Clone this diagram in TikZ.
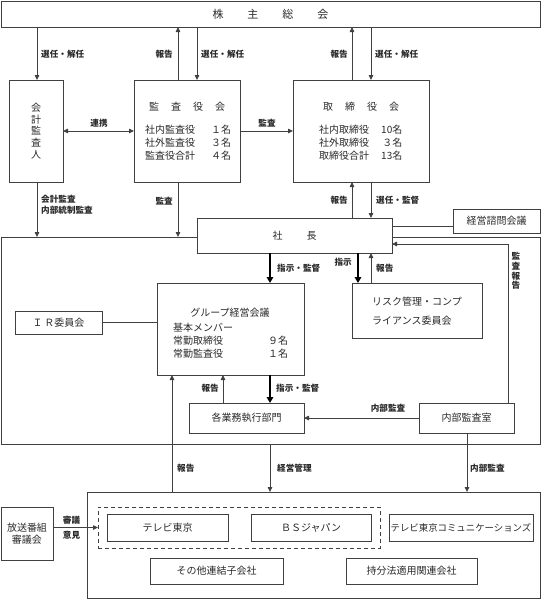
\documentclass[tikz,border=0pt]{standalone}
\usepackage{fontspec}
\setmainfont{Noto Sans CJK JP}
\usetikzlibrary{arrows.meta}
\definecolor{lc}{HTML}{404040}
\definecolor{tc}{HTML}{2A2A2A}
\tikzset{
  box/.style={draw=lc, line width=0.8pt, fill=white, inner sep=0pt, outer sep=0pt,
    font=\fontsize{10}{13}\selectfont, text=tc, align=center},
  txt/.style={inner sep=0pt, font=\fontsize{10}{13}\selectfont, text=tc},
  lbl/.style={inner sep=0pt, font=\fontsize{8.6}{10}\selectfont\bfseries, text=tc},
  ar/.style={draw=lc, line width=0.8pt, -{Triangle[length=5pt,width=4.5pt]}},
  arr/.style={draw=lc, line width=0.8pt, {Triangle[length=5pt,width=4.5pt]}-{Triangle[length=5pt,width=4.5pt]}},
  tar/.style={draw=black, line width=1.8pt, -{Triangle[length=6pt,width=6.5pt]}},
  ln/.style={draw=lc, line width=0.8pt},
  dashbox/.style={draw=lc, line width=0.8pt, dashed, dash pattern=on 4pt off 3pt, inner sep=0pt, outer sep=0pt},
}
\newcommand\bx[7][]{\node[box,#1,minimum width={#5-#3},minimum height={#6-#4}] (#2) at ({(#3+#5)/2},{(#4+#6)/2}) {#7};}
\begin{document}
\begin{tikzpicture}[x=1pt,y=-1pt]
\useasboundingbox (0,0) rectangle (541,600);
% x / y reference coordinates
\coordinate (x37) at (37,0);
\coordinate (x172) at (172,0);
\coordinate (x178) at (178,0);
\coordinate (x197) at (197,0);
\coordinate (x223) at (223,0);
\coordinate (x270) at (270,0);
\coordinate (x352) at (352,0);
\coordinate (x358) at (358,0);
\coordinate (x371) at (371,0);
\coordinate (x467) at (467,0);
\coordinate (x508) at (508,0);
\coordinate (y226) at (0,226);
\coordinate (y244) at (0,244);

% big areas
\bx{area}{1}{237}{540}{444}{}
\bx{kogaisha}{87}{492}{540}{598}{}

% boxes
\bx[font=\fontsize{11}{13}\selectfont]{soukai}{1}{1}{540}{27}{株\hspace{24pt}主\hspace{24pt}総\hspace{24pt}会}
\bx[font=\fontsize{10}{11.8}\selectfont]{kaikei}{9}{80}{63}{182}{会\\計\\監\\査\\人}
\bx{kansa}{134}{80}{240}{182}{}
\bx{tori}{293}{80}{429}{182}{}
\bx{shacho}{197}{218}{392}{253}{社\hspace{24pt}長}
\bx{shimon}{453}{209}{540}{233}{経営諮問会議}
\bx{group}{157}{283}{304}{375}{}
\bx{risk}{352}{283}{482}{338}{}
\bx{ir}{15}{311}{102}{334}{Ｉ\,Ｒ委員会}
\bx{gyomu}{189}{403}{304}{433}{各業務執行部門}
\bx{naibukansa}{419}{403}{514}{433}{内部監査室}
\node[dashbox, minimum width=282, minimum height=41] (dash) at (239,527.5) {};
\bx{tx}{107}{514}{228}{541}{テレビ東京}
\bx{bsj}{251}{514}{371}{541}{ＢＳジャパン}
\bx[font=\fontsize{9.4}{12}\selectfont]{tvc}{389}{514}{533}{541}{テレビ東京コミュニケーションズ}
\bx{sonota}{150}{558}{283}{584}{その他連結子会社}
\bx{mochibun}{346}{558}{477}{584}{持分法適用関連会社}
\bx[font=\fontsize{10}{12}\selectfont]{hoso}{1}{507}{53}{560}{放送番組\\審議会}

% box contents
\node[txt] (kansaT) at (187,107) {監\hspace{12pt}査\hspace{12pt}役\hspace{12pt}会};
\node[txt, anchor=west] (kansaL) at (145,144) {\begin{tabular}{@{}l@{\hspace{16pt}}r@{}}社内監査役&１名\\社外監査役&３名\\監査役合計&４名\end{tabular}};
\node[txt] (toriT) at (361,107) {取\hspace{12pt}締\hspace{12pt}役\hspace{12pt}会};
\node[txt, anchor=west] (toriL) at (319,144) {\begin{tabular}{@{}l@{\hspace{12pt}}r@{}}社内取締役&10名\\社外取締役&３名\\取締役合計&13名\end{tabular}};
\node[txt] (groupT) at (230,313) {グループ経営会議};
\node[txt, anchor=west] (groupL) at (173,342) {\begin{tabular}{@{}l@{\hspace{45pt}}r@{}}\multicolumn{2}{@{}l@{}}{基本メンバー}\\常勤取締役&９名\\常勤監査役&１名\end{tabular}};
\node[txt, anchor=west, align=left] (riskT) at (372,311.5) {リスク管理・コンプ\\[6pt]ライアンス委員会};

% connectors top
\draw[ar] (soukai.south -| x37) -- (kaikei.north -| x37);
\draw[ar] (kansa.north -| x178) -- (soukai.south -| x178);
\draw[ar] (soukai.south -| x197) -- (kansa.north -| x197);
\draw[ar] (tori.north -| x352) -- (soukai.south -| x352);
\draw[ar] (soukai.south -| x371) -- (tori.north -| x371);
\draw[arr] (kaikei.east) -- (kansa.west);
\draw[ar] (kansa.east) -- (tori.west);
\draw[ar] (kaikei.south -| x37) -- (area.north -| x37);
\draw[ar] (kansa.south -| x178) -- (area.north -| x178);
\draw[ar] (shacho.north -| x352) -- (tori.south -| x352);
\draw[ar] (tori.south -| x371) -- (shacho.north -| x371);
\draw[ln] (shacho.east |- y226) -- (shimon.west |- y226);
\draw[ar] (naibukansa.north -| x508) |- (shacho.east |- y244);
\draw[tar] (shacho.south -| x270) -- (group.north -| x270);
\draw[tar] (shacho.south -| x358) -- (risk.north -| x358);
\draw[ar] (risk.north -| x371) -- (shacho.south -| x371);
\draw[ln] (ir.east) -- (group.west |- ir.east);
\draw[ar] (gyomu.north -| x223) -- (group.south -| x223);
\draw[tar] (group.south -| x270) -- (gyomu.north -| x270);
\draw[ar] (naibukansa.west) -- (gyomu.east);
\draw[ar] (kogaisha.north -| x172) -- (group.south -| x172);
\draw[ar] (area.south -| x270) -- (kogaisha.north -| x270);
\draw[ar] (naibukansa.south -| x467) -- (kogaisha.north -| x467);
\draw[ar] (hoso.east |- dash.west) -- (dash.west);

% labels
\node[lbl, anchor=west] (l1) at (41,54) {選任・解任};
\node[lbl, anchor=east] (l2) at (173,54) {報告};
\node[lbl, anchor=west] (l3) at (201,54) {選任・解任};
\node[lbl, anchor=east] (l4) at (348,54) {報告};
\node[lbl, anchor=west] (l5) at (375,54) {選任・解任};
\node[lbl] (l6) at (99,123) {連携};
\node[lbl] (l7) at (267,123) {監査};
\node[lbl, anchor=west, align=left] (l8) at (41,205) {会計監査\\[1pt]内部統制監査};
\node[lbl, anchor=east] (l9) at (173,201) {監査};
\node[lbl, anchor=east] (l10) at (348,200) {報告};
\node[lbl, anchor=west] (l11) at (376,200) {選任・監督};
\node[lbl, anchor=west] (l12) at (277,268) {指示・監督};
\node[lbl, anchor=east] (l13) at (352,262) {指示};
\node[lbl, anchor=west] (l14) at (376,268) {報告};
\node[lbl, align=center, font=\fontsize{8.6}{9.6}\selectfont\bfseries] (l15) at (516,271) {監\\査\\報\\告};
\node[lbl, anchor=east] (l16) at (219,388) {報告};
\node[lbl, anchor=west] (l17) at (276,388) {指示・監督};
\node[lbl] (l18) at (388,408) {内部監査};
\node[lbl, anchor=west] (l19) at (177,468) {報告};
\node[lbl, anchor=west] (l20) at (277,468) {経営管理};
\node[lbl, anchor=west] (l21) at (470,468) {内部監査};
\node[lbl] (l22) at (71.5,520) {審議};
\node[lbl] (l23) at (71.5,535) {意見};
\end{tikzpicture}
\end{document}
